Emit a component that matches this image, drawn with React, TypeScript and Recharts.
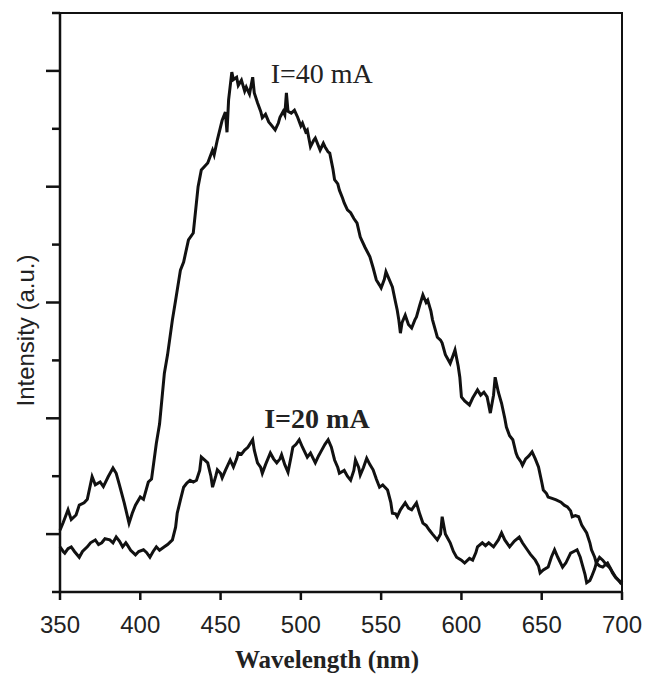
import React from 'react'
import { LineChart, Line, XAxis, YAxis, ReferenceDot } from 'recharts'

// wavelength (nm) / intensity (a.u.)
const WL_40 = [
    350, 352, 355, 357, 360, 362, 365, 367, 370, 372,
    375, 377, 380, 383, 385, 387, 390, 393, 395, 397,
    400, 402, 405, 407, 410, 412, 415, 417, 420, 422,
    425, 427, 430, 433, 436, 438, 440, 442, 445, 446,
    448, 451, 453, 454, 455, 457, 458, 460, 461, 463,
    465, 466, 468, 470, 471, 473, 475, 476, 478, 480,
    482, 484, 486, 487, 489, 490, 491, 492, 494, 496,
    498, 500, 501, 503, 504, 506, 508, 509, 511, 512,
    514, 515, 517, 518, 520, 521, 523, 524, 526, 527,
    529, 531, 533, 535, 537, 540, 543, 545, 547, 549,
    550, 552, 553, 555, 557, 559, 560, 561, 562, 563,
    565, 567, 569, 571, 572, 574, 576, 578, 579, 581,
    582, 584, 585, 587, 588, 590, 593, 595, 596, 598,
    599, 600, 602, 605, 607, 610, 612, 614, 616, 618,
    620, 621, 623, 625, 627, 628, 630, 632, 634, 635,
    637, 638, 640, 642, 644, 646, 648, 650, 651, 653,
    654, 656, 659, 662, 664, 666, 668, 669, 671, 673,
    675, 678, 680, 681, 683, 684, 686, 688, 690, 692,
    694, 696, 698, 699, 700]
const INT_40 = [
    1.07, 1.2, 1.42, 1.25, 1.33, 1.5, 1.54, 1.6, 1.99, 1.85,
    1.9, 1.82, 1.99, 2.14, 2.05, 1.85, 1.54, 1.19, 1.36, 1.5,
    1.64, 1.6, 1.9, 1.95, 2.57, 2.9, 3.78, 4.1, 4.7, 5.04,
    5.56, 5.7, 6.08, 6.2, 7.0, 7.29, 7.35, 7.41, 7.63, 7.55,
    7.81, 8.15, 8.29, 7.94, 8.5, 8.98, 8.85, 8.89, 8.75, 8.84,
    8.65, 8.72, 8.6, 8.89, 8.62, 8.45, 8.3, 8.19, 8.25, 8.12,
    8.05, 7.98, 8.1, 8.2, 8.3, 8.24, 8.62, 8.3, 8.27, 8.32,
    8.2, 8.05, 8.1, 7.95, 7.98, 7.69, 7.8, 7.84, 7.7, 7.63,
    7.75, 7.69, 7.6, 7.58, 7.3, 7.12, 7.05, 6.94, 6.8, 6.72,
    6.6, 6.55, 6.45, 6.37, 6.13, 5.95, 5.79, 5.6, 5.39, 5.3,
    5.25, 5.4, 5.53, 5.4, 5.27, 5.0, 4.87, 4.7, 4.47, 4.65,
    4.78, 4.62, 4.56, 4.7, 4.75, 4.95, 5.13, 5.0, 5.04, 4.85,
    4.7, 4.5, 4.4, 4.35, 4.3, 4.1, 3.95, 4.1, 4.18, 3.9,
    3.71, 3.37, 3.3, 3.23, 3.35, 3.49, 3.4, 3.45, 3.37, 3.09,
    3.4, 3.71, 3.45, 3.26, 3.0, 2.85, 2.7, 2.63, 2.4, 2.33,
    2.25, 2.19, 2.3, 2.35, 2.42, 2.3, 2.16, 1.9, 1.76, 1.7,
    1.64, 1.62, 1.59, 1.55, 1.5, 1.47, 1.4, 1.3, 1.32, 1.3,
    1.15, 1.02, 0.85, 0.73, 0.6, 0.5, 0.6, 0.55, 0.48, 0.43,
    0.35, 0.26, 0.2, 0.16, 0.2]

const WL_20 = [
    350, 352, 353, 355, 357, 359, 362, 364, 367, 369,
    372, 374, 376, 378, 381, 383, 385, 387, 389, 391,
    392, 394, 397, 399, 402, 404, 406, 408, 410, 412,
    415, 417, 420, 422, 423, 425, 427, 429, 431, 433,
    435, 437, 438, 440, 442, 444, 445, 447, 448, 450,
    451, 453, 456, 458, 460, 461, 463, 465, 467, 470,
    471, 473, 475, 476, 478, 481, 483, 485, 487, 488,
    490, 492, 494, 495, 497, 499, 501, 504, 506, 509,
    511, 513, 515, 517, 519, 521, 523, 524, 527, 529,
    531, 533, 534, 536, 537, 539, 541, 543, 545, 547,
    549, 551, 554, 556, 557, 559, 560, 562, 565, 567,
    569, 571, 572, 574, 576, 578, 580, 582, 585, 587,
    588, 590, 593, 595, 597, 600, 602, 605, 607, 609,
    610, 613, 615, 617, 620, 623, 625, 627, 630, 633,
    636, 638, 641, 643, 646, 648, 649, 651, 654, 656,
    658, 660, 663, 665, 668, 670, 672, 674, 675, 677,
    678, 680, 681, 683, 684, 686, 688, 690, 691, 693,
    694, 696, 699, 700]
const INT_20 = [
    0.78, 0.7, 0.67, 0.75, 0.78, 0.7, 0.6, 0.7, 0.78, 0.85,
    0.9, 0.82, 0.85, 0.92, 0.9, 0.85, 0.95, 0.88, 0.78, 0.85,
    0.81, 0.72, 0.64, 0.7, 0.73, 0.68, 0.6, 0.7, 0.78, 0.72,
    0.78, 0.82, 0.9, 1.12, 1.36, 1.59, 1.81, 1.88, 1.93, 1.9,
    1.93, 2.1, 2.33, 2.28, 2.23, 2.0, 1.81, 2.0, 2.11, 2.05,
    1.97, 2.1, 2.28, 2.16, 2.3, 2.4, 2.38, 2.45, 2.5, 2.63,
    2.45, 2.23, 2.15, 2.05, 2.2, 2.4, 2.3, 2.23, 2.3, 2.37,
    2.2, 2.07, 2.35, 2.5, 2.55, 2.63, 2.5, 2.33, 2.4, 2.23,
    2.35, 2.45, 2.55, 2.63, 2.5, 2.28, 2.15, 2.05, 2.1, 2.0,
    1.93, 2.1, 2.28, 2.15, 2.02, 2.15, 2.31, 2.2, 2.11, 1.95,
    1.81, 1.85, 1.76, 1.55, 1.36, 1.35, 1.3, 1.42, 1.54, 1.45,
    1.42, 1.5, 1.54, 1.35, 1.19, 1.15, 1.07, 1.0, 0.9, 1.0,
    1.3, 1.0, 0.85, 0.7, 0.6, 0.55, 0.5, 0.58, 0.55, 0.68,
    0.78, 0.85, 0.8, 0.85, 0.78, 0.9, 1.02, 0.9, 0.78, 0.88,
    0.95, 0.85, 0.73, 0.65, 0.55, 0.45, 0.33, 0.38, 0.43, 0.6,
    0.73, 0.6, 0.43, 0.5, 0.67, 0.7, 0.73, 0.6, 0.5, 0.3,
    0.16, 0.2, 0.26, 0.4, 0.5, 0.45, 0.43, 0.48, 0.5, 0.4,
    0.33, 0.25, 0.17, 0.18]

const X_DOMAIN = [350, 700]
const Y_DOMAIN = [0, 10]
const X_TICKS = [350, 400, 450, 500, 550, 600, 650, 700]
const Y_TICKS = [0, 1, 2, 3, 4, 5, 6, 7, 8, 9, 10]

const data40 = WL_40.map((w, i) => ({ w, v: INT_40[i] }))
const data20 = WL_20.map((w, i) => ({ w, v: INT_20[i] }))

const W = 647
const H = 675
const MARGIN = { top: 13, right: 25, bottom: 0, left: 0 }
const Y_AXIS_W = 60
const X_AXIS_H = 83

const INK = '#111'
const AX = { stroke: INK, strokeWidth: 2.5 }

// odd values get the long tick, even ones the short one
const YTick = ({ x, y, payload }: any) => {
    const len = payload.value % 2 === 1 ? 14 : 8
    return <line x1={x} x2={x - len} y1={y} y2={y} stroke={INK} strokeWidth={2.5} />
}

const YLabel = ({ viewBox }: any) => {
    const cx = viewBox.x + 25
    const cy = viewBox.y + viewBox.height / 2 + 28
    return (
        <text x={cx} y={cy} transform={`rotate(-90 ${cx} ${cy})`} textAnchor="middle" dominantBaseline="central"
            fontFamily="Liberation Sans" fontSize={24} fill="#222">
            Intensity (a.u.)
        </text>
    )
}

const XLabel = ({ viewBox }: any) => (
    <text x={viewBox.x + viewBox.width / 2 - 14} y={viewBox.y + 76} textAnchor="middle"
        fontFamily="Liberation Serif" fontWeight="bold" fontSize={25} fill="#222">
        Wavelength (nm)
    </text>
)

export default function App() {
    // top + right edges of the box, laid over the plot area
    const plotLeft = MARGIN.left + Y_AXIS_W
    const plotW = W - MARGIN.left - MARGIN.right - Y_AXIS_W
    const plotH = H - MARGIN.top - MARGIN.bottom - X_AXIS_H
    return (
        <div style={{ position: 'absolute', left: 0, top: 0, width: W, height: H, background: '#fff' }}>
            <LineChart width={W} height={H} margin={MARGIN}>
                <XAxis dataKey="w" type="number" domain={X_DOMAIN} ticks={X_TICKS}
                    height={X_AXIS_H} tickSize={8} tickMargin={16} axisLine={AX} tickLine={AX}
                    tick={{ fontSize: 24, fill: '#222', fontFamily: 'Liberation Sans' }} label={XLabel} />
                <YAxis type="number" domain={Y_DOMAIN} ticks={Y_TICKS} width={Y_AXIS_W} tickSize={0} tickMargin={0}
                    axisLine={AX} tickLine={false} tick={YTick} label={YLabel} />
                <Line data={data40} dataKey="v" type="linear" stroke={INK} strokeWidth={3} dot={false} isAnimationActive={false} />
                <Line data={data20} dataKey="v" type="linear" stroke={INK} strokeWidth={3} dot={false} isAnimationActive={false} />
                <ReferenceDot x={513} y={8.96} r={0} fill="none" stroke="none"
                    label={{ value: 'I=40 mA', position: 'center', fontSize: 28, fontFamily: 'Liberation Serif', fill: '#222' }} />
                <ReferenceDot x={510} y={3.0} r={0} fill="none" stroke="none"
                    label={{ value: 'I=20 mA', position: 'center', fontSize: 28, fontWeight: 'bold', fontFamily: 'Liberation Serif', fill: '#222' }} />
            </LineChart>
            <div style={{
                position: 'absolute', pointerEvents: 'none', boxSizing: 'border-box',
                left: plotLeft - 1.25, top: MARGIN.top - 1.25, width: plotW + 2.5, height: plotH + 1.25,
                borderTop: `2.5px solid ${INK}`, borderRight: `2.5px solid ${INK}`,
            }} />
        </div>
    )
}
